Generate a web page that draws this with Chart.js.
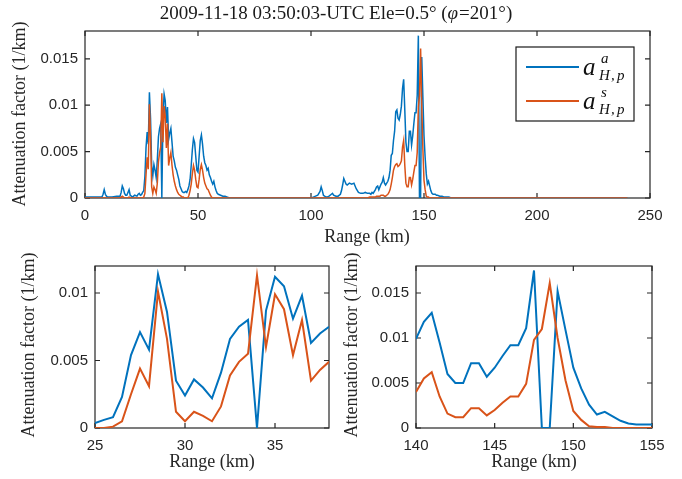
<!DOCTYPE html>
<html lang="en">
<head>
<meta charset="UTF-8">
<title>Attenuation factor vs range</title>
<style>
  body { margin: 0; background: #fff; }
  .wrap { position: relative; width: 682px; height: 479px; }
  canvas { position: absolute; }
  #topChart { left: 0; top: 0; }
  #leftChart { left: 0; top: 250px; }
  #rightChart { left: 341px; top: 250px; }
</style>
</head>
<body>
<div class="wrap">
  <canvas id="topChart" width="682" height="250"></canvas>
  <canvas id="leftChart" width="341" height="229"></canvas>
  <canvas id="rightChart" width="341" height="229"></canvas>
</div>
<script src="https://cdn.jsdelivr.net/npm/chart.js"></script>
<script>
// --- data (range in km, attenuation in 1/km) ---
// a^a = blue, a^s = orange

// 0 - 24.5 km
const nearKm = [0, 2, 4, 6, 7.5, 8, 8.5, 9, 9.5, 10, 12, 14, 15.5, 16, 16.5, 17, 17.5, 18, 18.5, 19, 19.5, 20, 20.5, 21, 21.5, 22, 23, 23.5, 24, 24.5];
const nearAa = [0.0001, 0.0001, 0.0001, 0.0001, 0.0001, 0.0004, 0.0009, 0.0004, 0.0002, 0.0001, 0.0001, 0.0002, 0.0002, 0.0006, 0.0013, 0.0010, 0.0005, 0.0003, 0.0003, 0.0006, 0.0009, 0.0003, 0.0002, 0.0001, 0.0002, 0.0003, 0.0002, 0.0004, 0.0005, 0.0003];
const nearAs = [0, 0, 0, 0, 0, 0, 0, 0, 0, 0, 0, 0, 0, 0.0001, 0.0002, 0.0001, 0, 0, 0, 0, 0.0001, 0, 0, 0, 0, 0, 0, 0, 0, 0];

// 25 - 38 km (bottom left zoom)
const leftKm = [25, 25.5, 26, 26.5, 27, 27.5, 28, 28.5, 29, 29.5, 30, 30.5, 31, 31.5, 32, 32.5, 33, 33.5, 34, 34.5, 35, 35.5, 36, 36.5, 37, 37.5, 38];
const leftAa = [0.00036, 0.0006, 0.0008, 0.0023, 0.0054, 0.0071, 0.0058, 0.0114, 0.0086, 0.0035, 0.0024, 0.0036, 0.0030, 0.0022, 0.0041, 0.0066, 0.0075, 0.0080, 0, 0.0087, 0.0112, 0.0105, 0.0081, 0.0098, 0.0063, 0.0070, 0.0075];
const leftAs = [0, 0, 0.0001, 0.0005, 0.0025, 0.0044, 0.0031, 0.0101, 0.0066, 0.0012, 0.0005, 0.0012, 0.0009, 0.0005, 0.0016, 0.0039, 0.0049, 0.0055, 0.0113, 0.0060, 0.0099, 0.0088, 0.0054, 0.0080, 0.0035, 0.0043, 0.0049];

// 38.5 - 64 km
const midKm = [38.5, 39, 39.5, 40, 40.5, 41, 41.5, 42, 42.5, 43, 43.5, 44, 44.5, 45, 45.5, 46, 46.5, 47, 47.5, 48, 48.5, 49, 49.5, 50, 50.5, 51, 51.5, 52, 52.5, 53, 53.5, 54, 54.5, 55, 55.5, 56, 56.5, 57, 57.5, 58, 58.5, 59, 60, 61, 62, 63, 64];
const midAa = [0.0060, 0.0045, 0.0040, 0.0033, 0.0030, 0.0025, 0.0020, 0.0013, 0.0010, 0.0007, 0.0006, 0.0006, 0.0007, 0.0006, 0.0009, 0.0013, 0.0020, 0.0035, 0.0052, 0.0064, 0.0060, 0.0045, 0.0030, 0.0028, 0.0045, 0.0062, 0.0068, 0.0058, 0.0045, 0.0038, 0.0035, 0.0030, 0.0032, 0.0025, 0.0022, 0.0018, 0.0015, 0.0018, 0.0012, 0.0008, 0.0005, 0.0004, 0.0003, 0.0002, 0.0002, 0.0001, 0];
const midAs = [0.0035, 0.0025, 0.0018, 0.0013, 0.0009, 0.0006, 0.0004, 0.0003, 0.0002, 0.0001, 0.0001, 0, 0, 0, 0, 0.0003, 0.0008, 0.0015, 0.0026, 0.0035, 0.0030, 0.0020, 0.0012, 0.0011, 0.0020, 0.0031, 0.0036, 0.0030, 0.0022, 0.0016, 0.0013, 0.0010, 0.0009, 0.0006, 0.0003, 0.0001, 0, 0, 0, 0, 0, 0, 0, 0, 0, 0, 0];

// 100 - 139.5 km
const farKm = [100, 101, 102, 103, 104, 104.5, 105, 105.5, 106, 107, 108, 109, 109.5, 110, 111, 112, 113, 113.5, 114, 114.5, 115, 115.5, 116, 117, 118, 119, 120, 121, 122, 123, 124, 125, 126, 126.5, 127, 127.5, 128, 128.5, 129, 129.5, 130, 130.5, 131, 131.5, 132, 132.5, 133, 133.5, 134, 134.5, 135, 135.5, 136, 136.5, 137, 137.5, 138, 138.5, 139, 139.5];
const farAa = [0, 0.0001, 0.0002, 0.0003, 0.0007, 0.0012, 0.0008, 0.0003, 0.0002, 0.0001, 0.0002, 0.0004, 0.0005, 0.0003, 0.0002, 0.0002, 0.0004, 0.0008, 0.0014, 0.0021, 0.0018, 0.0015, 0.0014, 0.0016, 0.0015, 0.0016, 0.0010, 0.0006, 0.0005, 0.0005, 0.0006, 0.0005, 0.0005, 0.0004, 0.0006, 0.0005, 0.0007, 0.0009, 0.0012, 0.0013, 0.0009, 0.0012, 0.0015, 0.0017, 0.0022, 0.0016, 0.0014, 0.0016, 0.0018, 0.0022, 0.0030, 0.0046, 0.0048, 0.0062, 0.0072, 0.0093, 0.0095, 0.0086, 0.0084, 0.0090];
const farAs = [0, 0, 0, 0, 0, 0, 0, 0, 0, 0, 0, 0, 0, 0, 0, 0, 0, 0, 0, 0, 0, 0, 0, 0, 0, 0, 0, 0, 0, 0, 0, 0, 0.0001, 0.0001, 0.0001, 0.0001, 0.0001, 0.0001, 0.0002, 0.0002, 0.0002, 0.0002, 0.0003, 0.0003, 0.0003, 0.0002, 0.0002, 0.0003, 0.0004, 0.0006, 0.0009, 0.0015, 0.0022, 0.0030, 0.0034, 0.0036, 0.0037, 0.0034, 0.0035, 0.0037];

// 140 - 155 km (bottom right zoom)
const rightKm = [140, 140.5, 141, 141.5, 142, 142.5, 143, 143.5, 144, 144.5, 145, 145.5, 146, 146.5, 147, 147.5, 148, 148.5, 149, 149.5, 150, 150.5, 151, 151.5, 152, 152.5, 153, 153.5, 154, 154.5, 155];
const rightAa = [0.0099, 0.0118, 0.0128, 0.0095, 0.0060, 0.0050, 0.0050, 0.0072, 0.0072, 0.0057, 0.0067, 0.0080, 0.0092, 0.0092, 0.0111, 0.0175, 0, 0, 0.0152, 0.0109, 0.0067, 0.0044, 0.0026, 0.0015, 0.0018, 0.0013, 0.0008, 0.0005, 0.0004, 0.0004, 0.0004];
const rightAs = [0.0040, 0.0055, 0.0062, 0.0035, 0.0016, 0.0012, 0.0012, 0.0022, 0.0022, 0.0014, 0.0020, 0.0028, 0.0035, 0.0035, 0.0049, 0.0098, 0.0110, 0.0161, 0.0100, 0.0053, 0.0019, 0.0009, 0.0002, 0.0001, 0.0001, 0, 0, 0, 0, 0, 0];

// 155.5 - 240 km
const tailKm = [155.5, 156, 157, 158, 159, 160, 161, 162, 240];
const tailAa = [0.0003, 0.0003, 0.0002, 0.0002, 0.0001, 0.0001, 0.0001, 0, 0];
const tailAs = [0, 0, 0, 0, 0, 0, 0, 0, 0];

// tick values
const topXTicks = [0, 50, 100, 150, 200, 250];
const topYTicks = [0, 0.005, 0.01, 0.015];
const leftXTicks = [25, 30, 35];
const leftYTicks = [0, 0.005, 0.01];
const rightXTicks = [140, 145, 150, 155];
const rightYTicks = [0, 0.005, 0.01, 0.015];

const titleText = '2009-11-18 03:50:03-UTC Ele=0.5\u00B0 (';
const titleTail = '=201\u00B0)';
const xTitle = 'Range (km)';
const yTitle = 'Attenuation factor (1/km)';

const BLUE = '#0072BD';
const ORANGE = '#D95319';
const INK = '#262626';
const SERIF = '"Liberation Serif", "DejaVu Serif", serif';

const topKm = [].concat(nearKm, leftKm, midKm, farKm, rightKm, tailKm);
const topAa = [].concat(nearAa, leftAa, midAa, farAa, rightAa, tailAa);
const topAs = [].concat(nearAs, leftAs, midAs, farAs, rightAs, tailAs);

function pts(xs, ys) {
  return xs.map((x, i) => ({ x: x, y: ys[i] }));
}

// axes box with inward ticks on all four sides (drawn under the lines)
const boxPlugin = {
  id: 'box',
  beforeDatasetsDraw(chart) {
    const { ctx, chartArea: a, scales } = chart;
    const t = 5;
    ctx.save();
    ctx.strokeStyle = INK;
    ctx.lineWidth = 1.2;
    ctx.strokeRect(a.left, a.top, a.right - a.left, a.bottom - a.top);
    ctx.beginPath();
    scales.x.ticks.forEach(tk => {
      const px = scales.x.getPixelForValue(tk.value);
      ctx.moveTo(px, a.bottom); ctx.lineTo(px, a.bottom - t);
      ctx.moveTo(px, a.top); ctx.lineTo(px, a.top + t);
    });
    scales.y.ticks.forEach(tk => {
      const py = scales.y.getPixelForValue(tk.value);
      ctx.moveTo(a.left, py); ctx.lineTo(a.left + t, py);
      ctx.moveTo(a.right, py); ctx.lineTo(a.right - t, py);
    });
    ctx.stroke();
    ctx.restore();
  }
};

// axis labels, title and legend
const textPlugin = {
  id: 'texts',
  afterDraw(chart, args, opts) {
    const ctx = chart.ctx;
    ctx.save();
    ctx.fillStyle = INK;
    ctx.textAlign = 'center';
    ctx.textBaseline = 'middle';
    ctx.font = '18px ' + SERIF;
    ctx.fillText(xTitle, opts.xl[0], opts.xl[1]);
    ctx.save();
    ctx.translate(opts.yl[0], opts.yl[1]);
    ctx.rotate(-Math.PI / 2);
    ctx.fillText(yTitle, 0, 0);
    ctx.restore();

    if (opts.title) {
      ctx.textAlign = 'left';
      ctx.fillStyle = '#1a1a1a';
      const normal = '19px ' + SERIF;
      const ital = 'italic 19px ' + SERIF;
      ctx.font = normal;
      const w1 = ctx.measureText(titleText).width;
      const w3 = ctx.measureText(titleTail).width;
      ctx.font = ital;
      const w2 = ctx.measureText('\u03C6').width + 1;
      let x = opts.title[0] - (w1 + w2 + w3) / 2;
      const y = opts.title[1];
      ctx.font = normal; ctx.fillText(titleText, x, y); x += w1;
      ctx.font = ital; ctx.fillText('\u03C6', x, y); x += w2;
      ctx.font = normal; ctx.fillText(titleTail, x, y);
    }

    if (opts.legend) {
      const L = opts.legend;
      ctx.fillStyle = '#fff';
      ctx.fillRect(L.x, L.y, L.w, L.h);
      ctx.strokeStyle = '#1a1a1a';
      ctx.lineWidth = 1.2;
      ctx.strokeRect(L.x, L.y, L.w, L.h);
      const rows = [[BLUE, 'a', 67], [ORANGE, 's', 101]];
      rows.forEach(r => {
        ctx.strokeStyle = r[0];
        ctx.lineWidth = 2;
        ctx.beginPath();
        ctx.moveTo(526, r[2]); ctx.lineTo(579, r[2]);
        ctx.stroke();
        ctx.fillStyle = '#111';
        ctx.textAlign = 'left';
        ctx.textBaseline = 'alphabetic';
        ctx.font = 'italic 25px ' + SERIF;
        ctx.fillText('a', 583, r[2] + 8);
        ctx.font = 'italic 15px ' + SERIF;
        ctx.fillText(r[1], 601, r[2] - 4);
        ctx.fillText('H', 599, r[2] + 13);
        ctx.fillText(',', 611, r[2] + 13);
        ctx.fillText('p', 617, r[2] + 13);
      });
    }
    ctx.restore();
  }
};

function xAxis(min, max, tickVals, h) {
  return {
    type: 'linear', min: min, max: max,
    grid: { display: false, drawTicks: false }, border: { display: false },
    ticks: { font: { family: 'Liberation Sans', size: 15 }, color: INK, padding: 9, maxRotation: 0, autoSkip: false },
    afterBuildTicks: s => { s.ticks = tickVals.map(v => ({ value: v })); },
    afterFit: s => { s.height = h; }
  };
}

function yAxis(max, tickVals, w) {
  return {
    type: 'linear', min: 0, max: max,
    grid: { display: false, drawTicks: false }, border: { display: false },
    ticks: { font: { family: 'Liberation Sans', size: 15 }, color: INK, padding: 7, callback: v => String(v) },
    afterBuildTicks: s => { s.ticks = tickVals.map(v => ({ value: v })); },
    afterFit: s => { s.width = w; }
  };
}

function makeChart(id, km, aa, as, lw, cfg) {
  return new Chart(document.getElementById(id), {
    type: 'line',
    data: {
      datasets: [
        { label: 'a_H,p^a', data: pts(km, aa), borderColor: BLUE, borderWidth: lw, pointRadius: 0, tension: 0, order: 1 },
        { label: 'a_H,p^s', data: pts(km, as), borderColor: ORANGE, borderWidth: lw, pointRadius: 0, tension: 0, order: 0 }
      ]
    },
    options: {
      responsive: false,
      animation: false,
      devicePixelRatio: 1,
      events: [],
      layout: { padding: cfg.padding },
      scales: {
        x: xAxis(cfg.xmin, cfg.xmax, cfg.xticks, cfg.xh),
        y: yAxis(cfg.ymax, cfg.yticks, cfg.yw)
      },
      plugins: {
        legend: { display: false },
        tooltip: { enabled: false },
        texts: cfg.texts
      }
    },
    plugins: [boxPlugin, textPlugin]
  });
}

makeChart('topChart', topKm, topAa, topAs, 1.5, {
  padding: { left: 0, top: 31, right: 32, bottom: 0 },
  xmin: 0, xmax: 250, xticks: topXTicks, xh: 52,
  ymax: 0.018, yticks: topYTicks, yw: 85,
  texts: { xl: [367, 237], yl: [20, 114], title: [336, 14], legend: { x: 516, y: 47, w: 118, h: 74 } }
});

makeChart('leftChart', leftKm, leftAa, leftAs, 2, {
  padding: { left: 0, top: 13, right: 12, bottom: 0 },
  xmin: 25, xmax: 38, xticks: leftXTicks, xh: 51,
  ymax: 0.012, yticks: leftYTicks, yw: 95,
  texts: { xl: [212, 212], yl: [29, 95] }
});

makeChart('rightChart', rightKm, rightAa, rightAs, 2, {
  padding: { left: 0, top: 13, right: 30, bottom: 0 },
  xmin: 140, xmax: 155, xticks: rightXTicks, xh: 51,
  ymax: 0.018, yticks: rightYTicks, yw: 75,
  texts: { xl: [193, 212], yl: [11, 95] }
});
</script>
</body>
</html>
